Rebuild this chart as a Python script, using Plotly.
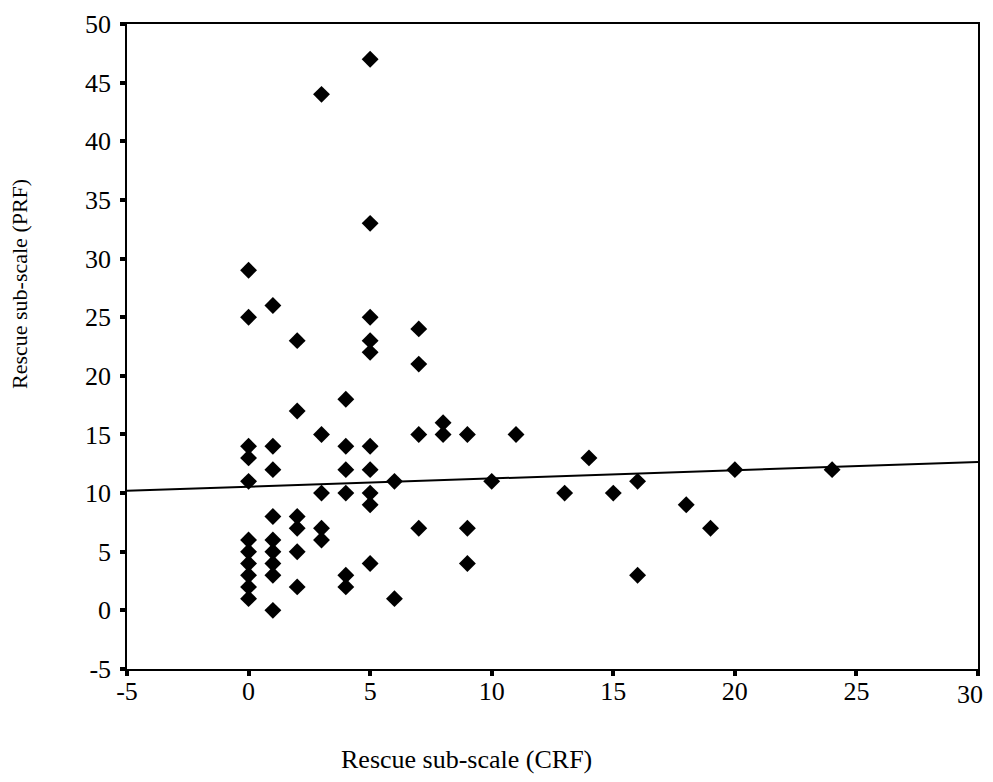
import plotly.graph_objects as go

# Data
crf = [0]*11 + [1]*9 + [2]*6 + [3]*5 + [4]*6 + [5]*10 + [6]*2 + [7]*4 + [8]*2 + [9]*3 + \
      [10, 11, 13, 14, 15, 16, 16, 18, 19, 20, 24]
prf = [29, 25, 14, 13, 11, 6, 5, 4, 3, 2, 1,
       26, 14, 12, 8, 6, 5, 4, 3, 0,
       23, 17, 8, 7, 5, 2,
       44, 15, 10, 7, 6,
       18, 14, 12, 10, 3, 2,
       47, 33, 25, 23, 22, 14, 12, 10, 9, 4,
       11, 1,
       24, 21, 15, 7,
       16, 15,
       15, 7, 4,
       11, 15, 10, 13, 10, 11, 3, 9, 7, 12, 12]

fit_intercept = 10.55
fit_slope = 0.07
fit_x = [-5, 30]

x_ticks = [-5, 0, 5, 10, 15, 20, 25, 30]
y_ticks = [-5, 0, 5, 10, 15, 20, 25, 30, 35, 40, 45, 50]

fig = go.Figure()
fig.add_trace(go.Scatter(
    x=fit_x, y=[fit_intercept + fit_slope * v for v in fit_x],
    mode="lines", line=dict(color="black", width=2), showlegend=False, hoverinfo="skip"))
fig.add_trace(go.Scatter(
    x=crf, y=prf, mode="markers",
    marker=dict(symbol="diamond", size=13, color="black"), showlegend=False))

font = "Liberation Serif, Times New Roman, serif"
# page body adds an 8px offset; plot box in figure coordinates
L, T, R, B = 119, 16, 970, 661
W, H = 977, 766
# the last x tick label would be clipped at the right edge: draw it as an annotation nudged left
x_ticktext = [str(v) for v in x_ticks[:-1]] + [""]
fig.update_layout(
    width=W, height=H,
    margin=dict(l=L, r=W - R, t=T, b=H - B),
    paper_bgcolor="white", plot_bgcolor="white",
    font=dict(family=font, color="black"),
    annotations=[
        dict(text="Rescue sub-scale (CRF)", xref="paper", yref="paper",
             x=(458 - L) / (R - L), y=-(751 - B) / (B - T),
             xanchor="center", yanchor="middle", showarrow=False,
             font=dict(size=26, family=font, color="black")),
        dict(text="Rescue sub-scale (PRF)", xref="paper", yref="paper",
             x=-(L - 11) / (R - L), y=(B - 276) / (B - T),
             xanchor="center", yanchor="middle", showarrow=False, textangle=-90,
             font=dict(size=22, family=font, color="black")),
        dict(text=str(x_ticks[-1]), xref="x", yref="paper", x=x_ticks[-1], y=0,
             xanchor="right", yanchor="top", xshift=7, yshift=-9, showarrow=False,
             font=dict(size=26, family=font, color="black")),
    ],
)
fig.update_xaxes(
    range=[-5, 30], tickvals=x_ticks, ticktext=x_ticktext,
    showgrid=False, zeroline=False, showline=True, linecolor="black", linewidth=1.5,
    mirror=True, ticks="outside", ticklen=5, tickwidth=4, tickcolor="black",
    tickfont=dict(size=26, family=font, color="black"), automargin=False,
    ticklabelstandoff=-7,
)
fig.update_yaxes(
    range=[-5, 50], tickvals=y_ticks, ticktext=[str(v) for v in y_ticks],
    showgrid=False, zeroline=False, showline=True, linecolor="black", linewidth=1.5,
    mirror=True, ticks="outside", ticklen=5, tickwidth=4, tickcolor="black",
    tickfont=dict(size=26, family=font, color="black"), automargin=False,
    ticklabelstandoff=4,
)
fig.write_html("out.html")
